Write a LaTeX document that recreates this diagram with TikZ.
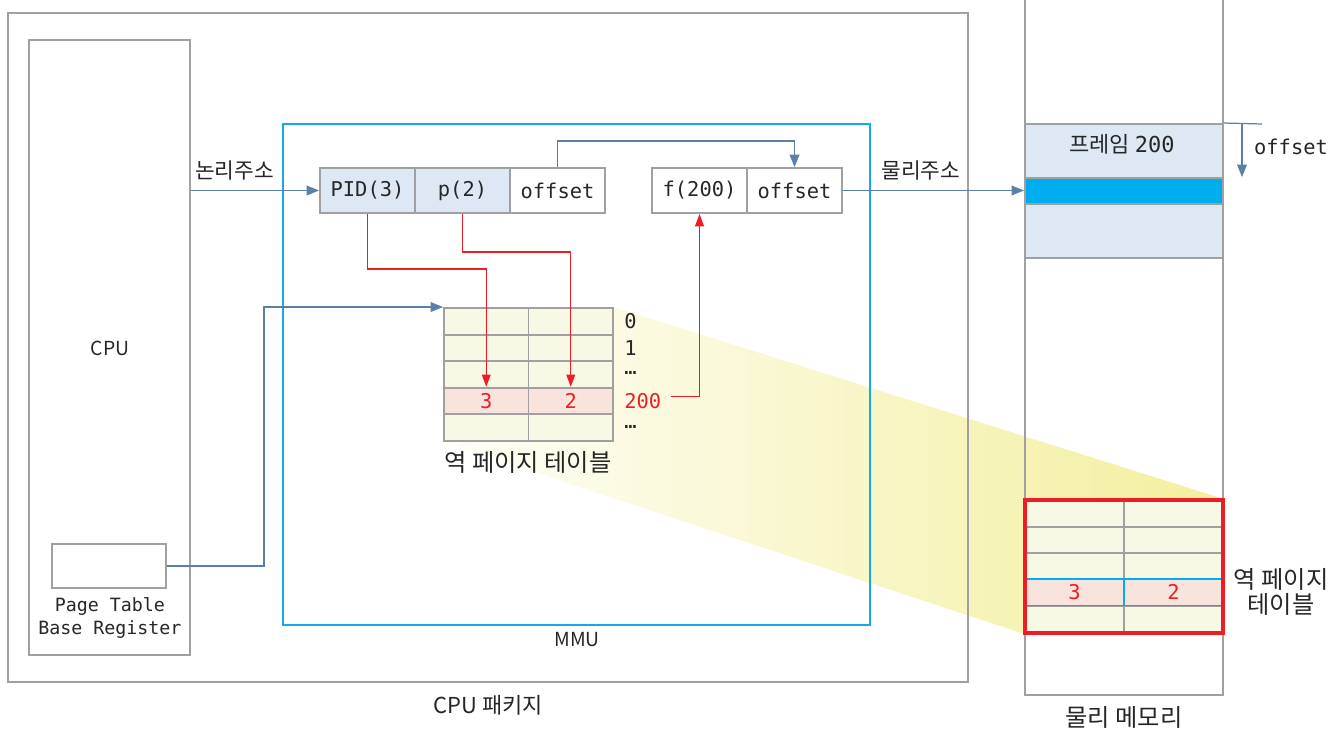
\documentclass[tikz,border=0pt]{standalone}
\usepackage{fontspec}
\setmainfont{Noto Sans CJK KR}
\newfontfamily\mono{DejaVu Sans Mono}
\usetikzlibrary{arrows.meta,calc,fit}
\definecolor{gbox}{HTML}{A0A0A0}
\definecolor{lblue}{HTML}{DEE8F5}
\definecolor{cyanb}{HTML}{00AEEF}
\definecolor{mmuc}{HTML}{14A9E8}
\definecolor{sblue}{HTML}{5A7FA8}
\definecolor{rarr}{HTML}{EE1C25}
\definecolor{lyel}{HTML}{F8F9E5}
\definecolor{pink}{HTML}{F8E4DC}
\definecolor{yel}{HTML}{F3EF9E}
\definecolor{txt}{HTML}{262626}
\newcommand{\fsK}{\fontsize{12.5pt}{14pt}\selectfont}
\newcommand{\fsT}{\fontsize{13.8pt}{15pt}\selectfont}
\newcommand{\fsKK}{\fontsize{13.8pt}{14.5pt}\selectfont}
\newcommand{\fsL}{\fontsize{11pt}{13pt}\selectfont}
\newcommand{\fsA}{\fontsize{12.2pt}{13pt}\selectfont}
\newcommand{\fsM}{\mono\fontsize{11.6pt}{13pt}\selectfont}
\newcommand{\fsS}{\mono\fontsize{10.4pt}{13pt}\selectfont}
\tikzset{
  box/.style={draw=gbox, line width=1.1pt, inner sep=0pt},
  mmubox/.style={draw=mmuc, line width=1.1pt, inner sep=0pt},
  cell/.style={draw=gbox, line width=1.1pt, inner sep=0pt, minimum width=1.9cm, minimum height=0.9cm, font=\fsM, text=txt},
  tcell/.style={draw=gbox, line width=1.1pt, inner sep=0pt, minimum width=1.69cm, minimum height=0.532cm, fill=lyel, font=\fsM, text=rarr},
  mcell/.style={draw=gbox, line width=1.1pt, inner sep=0pt, minimum width=1.98cm, minimum height=0.532cm, fill=lyel, font=\fsM, text=rarr},
  rlab/.style={anchor=base west, font=\fsM, text=txt, inner sep=0pt, text height=7pt, text depth=0pt},
  lab/.style={font=\fsK, text=txt},
  barrow/.style={draw=sblue, line width=0.7pt, -{Triangle[length=7pt,width=5.5pt]}},
  bline/.style={draw=sblue, line width=0.7pt},
  rarrow/.style={draw=rarr, line width=0.7pt, -{Triangle[length=7pt,width=5pt]}},
}
\begin{document}
\begin{tikzpicture}[x=0.02cm,y=-0.02cm, text=txt]
\useasboundingbox (0,0) rectangle (1335,733);
\clip (0,0) rectangle (1335,733);

% table cells (CPU side)
\foreach \r in {1,2,3,5}{
  \foreach \c in {1,2}{
    \node[tcell] (t\r\c) at ({444+42.25+84.5*(\c-1)},{308+13.3+26.6*(\r-1)}) {};
  }
}
\node[tcell, fill=pink] (t41) at (486.25,401.1) {3};
\node[tcell, fill=pink] (t42) at (570.75,401.1) {2};

% memory table cells
\foreach \r in {1,2,3,5}{
  \foreach \c in {1,2}{
    \node[mcell] (m\r\c) at ({1025+49.5+99*(\c-1)},{500+13.3+26.6*(\r-1)}) {};
  }
}

% yellow projection
\shade[left color=yel!8, right color=yel] (t12.north east) -- (m12.north east) -- (m51.south west) -- (t51.south west) -- cycle;

% redraw table cells on top of shade
\foreach \r in {1,2,3,5}{
  \foreach \c in {1,2}{
    \node[tcell] at ({444+42.25+84.5*(\c-1)},{308+13.3+26.6*(\r-1)}) {};
    \node[mcell] at ({1025+49.5+99*(\c-1)},{500+13.3+26.6*(\r-1)}) {};
  }
}
\node[tcell, fill=pink] at (486.25,401.1) {3};
\node[tcell, fill=pink] at (570.75,401.1) {2};

% CPU package
\node[box, fit={(8,13)(968,682)}] (pkg) {};
\node[lab] at (488,705) {CPU 패키지};
\node[box, fit={(29,40)(190,655)}] (cpu) {};
\node[font=\fsL] at (110,348) {CPU};
\node[box, fit={(52,544)(166,588)}] (ptbr) {};
\node[font=\fsS, align=center] at (110,618) {Page Table\\Base Register};

% MMU
\node[mmubox, fit={(283,124)(870,625)}] (mmu) {};
\node[font=\fsL] at (577,640) {MMU};

% logical address
\node[cell, fill=lblue] (pid) at (367.5,190.5) {PID(3)};
\node[cell, fill=lblue] (pg) at (462.5,190.5) {p(2)};
\node[cell] (off) at (557.5,190.5) {offset};
% physical address
\node[cell] (fr) at (699.5,190.5) {f(200)};
\node[cell] (poff) at (794.5,190.5) {offset};

% row labels
\node[rlab] (l0) at (624,328) {0};
\node[rlab] (l1) at (624,355) {1};
\node[rlab] (l2) at (624,374) {…};
\node[rlab, text=rarr] (l200) at (624,408) {200};
\node[rlab] (l4) at (624,428) {…};
\node[font=\fsT] (tlab) at (528,462) {역 페이지 테이블};

% physical memory
\node[box, fit={(1025,-3)(1223,695)}] (mem) {};
\node[font=\fsT] at (1124,717) {물리 메모리};
\node[box, fill=lblue, fit={(1025,124)(1223,258)}] (frame) {};
\node[box, fill=cyanb, fit={(1025,178)(1223,204)}] (band) {};
\node[font=\fsK] at (1122,144) {프레임 {\mono\fontsize{12.5pt}{14pt}\selectfont 200}};
\coordinate (oa) at (1242,124);
\coordinate (ob) at (1242,177);
\draw[bline] (frame.north east) -- (1262,124);
\draw[barrow] (oa) -- (ob);
\node[font=\fsM] at (1291,147) {offset};

% memory inverted page table
\node[mcell, fill=pink, draw=cyanb] (m41) at (1074.5,592.2) {3};
\node[mcell, fill=pink, draw=cyanb] (m42) at (1173.5,592.2) {2};
\draw[rarr, line width=2.2pt] (1025,500) rectangle (1223,633);
\node[align=center, font=\fsKK] at (1281,592) {역 페이지\\테이블};

% connectors
\draw[barrow] (cpu.east |- pid.west) -- (pid.west) node[pos=0.34, above=2pt, font=\fsA] {논리주소};
\draw[barrow] (off.north) -- ++(0,-26) -| (poff.north);
\draw[barrow] (poff.east) -- (poff.east -| mem.west) node[pos=0.43, above=2pt, font=\fsA] {물리주소};
\draw[rarrow] (pid.south) -- ++(0,55) -| (t41.north);
\draw[rarrow] (pg.south) -- ++(0,38) -| (t42.north);
\draw[rarrow] (l200.east) ++(9,-5) -| (fr.south);
\draw[barrow] (ptbr.east) -- ++(97,0) |- (t11.north west);
\end{tikzpicture}
\end{document}
